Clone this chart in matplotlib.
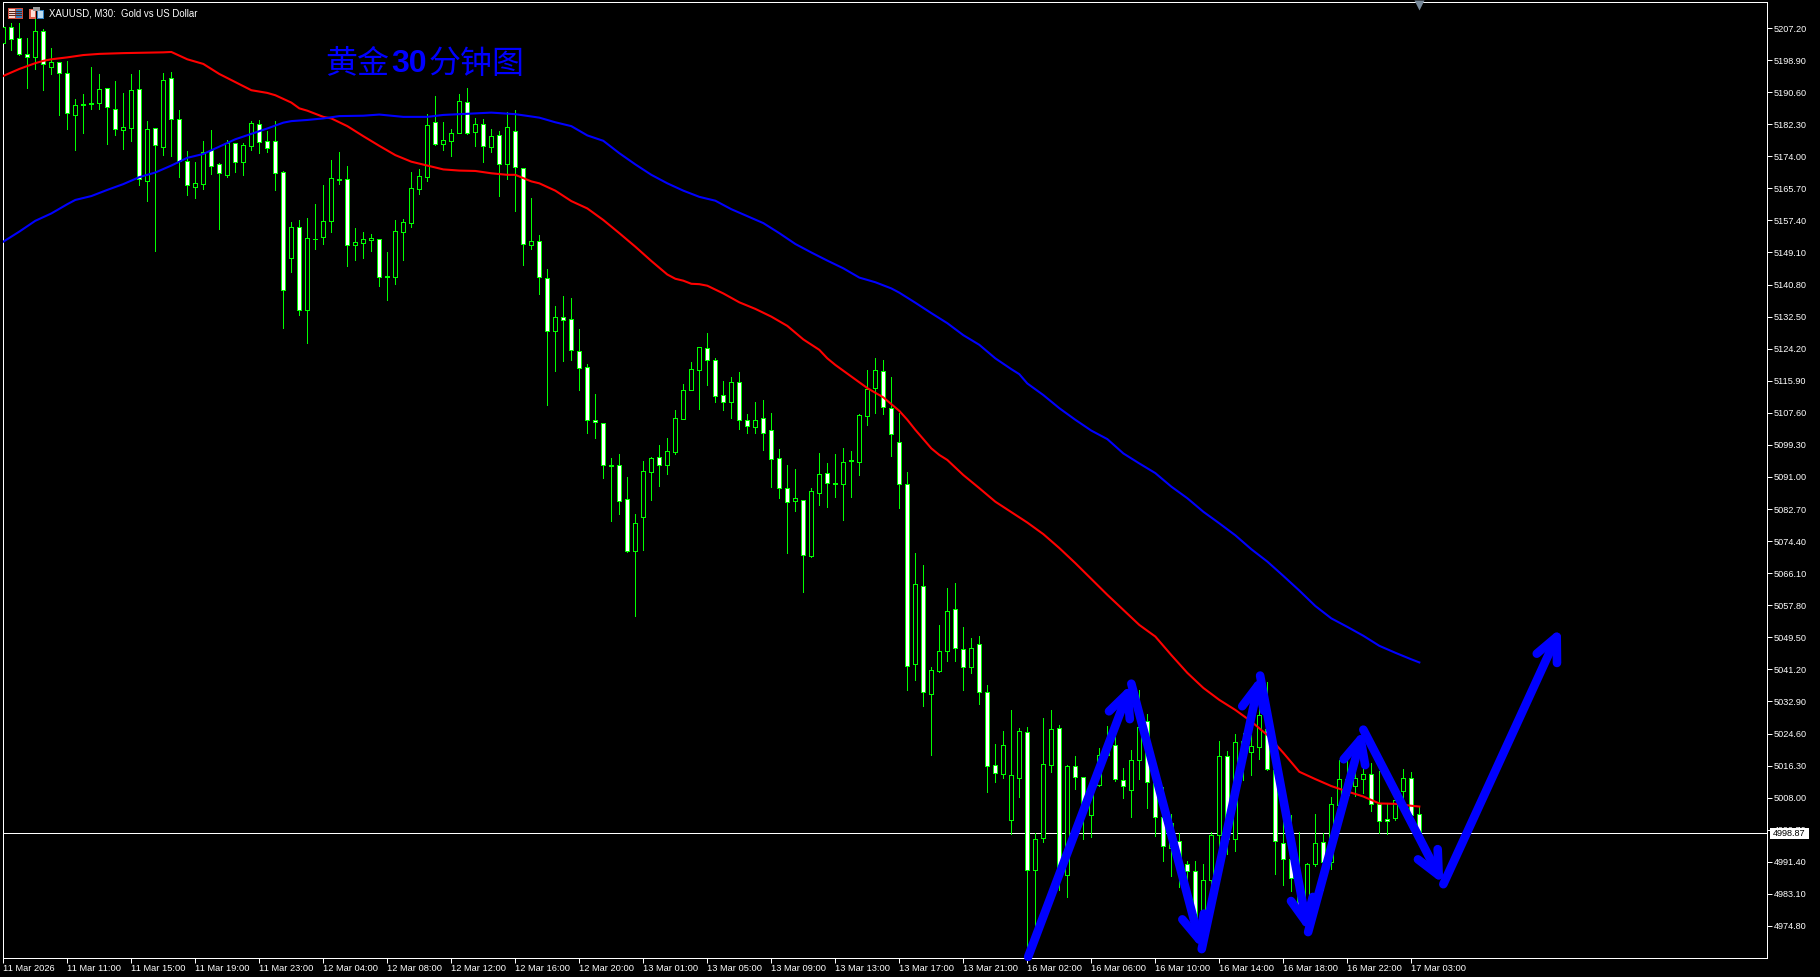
import matplotlib
matplotlib.use("Agg")
import matplotlib.pyplot as plt
from matplotlib.patches import Rectangle
from matplotlib.transforms import blended_transform_factory

# 30 minute bars
opens = [
    5203.4, 5207.4, 5204.5, 5200.4, 5199.8, 5206.5, 5197.2, 5198.3, 5195.5, 5184.8,
    5187.5, 5187.7, 5187.9, 5191.6, 5186.2, 5180.7, 5181.4, 5191.3, 5167.7, 5181.2,
    5176.5, 5194.2, 5183.6, 5172.7, 5166.1, 5166.9, 5175.5, 5171.9, 5169.2, 5177.4,
    5172.6, 5176.7, 5182.3, 5177.9, 5177.9, 5169.9, 5147.8, 5155.6, 5134.3, 5152.7,
    5153.0, 5157.3, 5168.1, 5168.0, 5151.0, 5151.6, 5152.4, 5152.5, 5142.9, 5142.8,
    5154.5, 5156.8, 5165.6, 5168.7, 5182.8, 5177.3, 5178.0, 5180.1, 5188.0, 5180.4,
    5182.3, 5176.5, 5179.4, 5172.1, 5180.5, 5170.9, 5151.0, 5152.0, 5142.4, 5128.7,
    5132.3, 5131.8, 5123.5, 5119.4, 5105.7, 5104.9, 5094.1, 5094.0, 5085.2, 5071.9,
    5080.7, 5092.4, 5096.1, 5094.2, 5097.5, 5106.1, 5113.6, 5118.8, 5124.3, 5121.2,
    5112.1, 5110.5, 5115.7, 5105.7, 5104.0, 5106.2, 5103.1, 5095.8, 5088.1, 5084.9,
    5085.0, 5070.6, 5086.9, 5092.0, 5089.5, 5089.3, 5095.3, 5095.0, 5106.9, 5114.0,
    5118.4, 5108.8, 5100.0, 5089.1, 5042.5, 5062.7, 5034.8, 5040.9, 5045.9, 5056.8,
    5046.4, 5041.7, 5047.7, 5035.3, 5016.4, 5014.0, 5002.1, 5013.0, 5024.9, 4989.2,
    4997.5, 5016.4, 5026.0, 4987.9, 5016.1, 5013.3, 5003.6, 5011.2, 5019.0, 5021.5,
    5012.5, 5009.9, 5017.7, 5027.8, 5011.7, 5003.0, 4994.9, 4996.9, 4990.8, 4988.9,
    4977.2, 4986.6, 4998.3, 5018.7, 4997.2, 5022.7, 5019.7, 5021.2, 5025.7, 5015.2,
    4996.2, 4992.0, 4987.6, 4978.9, 4990.8, 4996.4, 4991.4, 5006.0, 5012.8, 5010.9,
    5012.8, 5014.0, 5006.4, 5002.4, 5002.7, 5009.6, 5013.0, 5003.7,
]
highs = [
    5208.5, 5208.4, 5208.4, 5204.5, 5209.7, 5206.9, 5201.9, 5198.3, 5198.7, 5188.8,
    5190.1, 5197.0, 5195.3, 5191.6, 5193.5, 5190.4, 5195.3, 5196.3, 5183.1, 5181.2,
    5195.5, 5195.8, 5185.9, 5175.4, 5172.5, 5177.9, 5180.8, 5172.2, 5178.1, 5177.5,
    5177.4, 5183.1, 5183.4, 5180.6, 5183.1, 5170.1, 5157.0, 5157.5, 5158.0, 5161.6,
    5166.6, 5173.0, 5175.0, 5171.5, 5155.4, 5154.4, 5153.9, 5152.5, 5149.2, 5157.5,
    5157.8, 5169.9, 5170.7, 5184.9, 5189.6, 5182.9, 5181.0, 5190.1, 5191.7, 5183.8,
    5183.6, 5181.0, 5180.5, 5185.5, 5186.0, 5170.9, 5163.1, 5153.5, 5144.7, 5135.2,
    5137.8, 5137.3, 5129.2, 5120.2, 5112.5, 5104.9, 5095.9, 5097.0, 5091.0, 5081.4,
    5095.1, 5096.1, 5099.3, 5101.1, 5108.3, 5115.1, 5120.8, 5124.6, 5128.3, 5121.8,
    5115.8, 5116.8, 5118.2, 5107.3, 5110.4, 5110.9, 5107.6, 5098.2, 5094.1, 5093.1,
    5085.0, 5088.1, 5097.2, 5094.6, 5097.0, 5098.4, 5097.7, 5107.3, 5118.7, 5121.7,
    5121.3, 5116.8, 5107.6, 5092.2, 5071.3, 5068.2, 5041.8, 5052.7, 5062.2, 5063.6,
    5052.2, 5049.3, 5049.8, 5037.2, 5021.9, 5025.3, 5030.7, 5026.0, 5026.3, 4998.9,
    5028.6, 5030.7, 5026.8, 5016.5, 5018.8, 5013.4, 5011.3, 5020.9, 5026.6, 5023.6,
    5015.7, 5020.3, 5035.9, 5029.7, 5016.7, 5010.8, 5003.8, 4998.8, 4991.6, 4991.6,
    4990.8, 4999.1, 5022.7, 5020.1, 5024.5, 5024.7, 5024.2, 5033.0, 5037.9, 5020.8,
    5002.2, 5003.5, 4999.0, 4991.0, 5003.8, 4998.8, 5008.2, 5017.8, 5018.0, 5019.5,
    5016.5, 5016.9, 5014.9, 5006.4, 5008.4, 5015.4, 5014.6, 5005.7,
]
lows = [
    5203.2, 5201.5, 5200.2, 5191.6, 5196.5, 5191.2, 5195.3, 5184.7, 5181.0, 5175.5,
    5180.1, 5186.2, 5186.2, 5177.2, 5179.5, 5175.9, 5178.0, 5166.6, 5162.5, 5149.6,
    5174.3, 5174.1, 5168.7, 5164.0, 5163.2, 5165.5, 5169.4, 5155.2, 5168.7, 5169.9,
    5169.2, 5175.6, 5174.9, 5175.1, 5165.3, 5129.6, 5144.1, 5132.9, 5125.8, 5150.0,
    5151.3, 5154.4, 5166.8, 5145.6, 5147.2, 5147.7, 5149.5, 5140.4, 5136.8, 5141.0,
    5147.2, 5155.8, 5164.2, 5167.7, 5176.9, 5175.6, 5174.1, 5180.1, 5179.8, 5176.7,
    5172.5, 5175.1, 5163.7, 5168.1, 5159.8, 5145.9, 5150.0, 5138.4, 5109.6, 5118.4,
    5121.0, 5121.3, 5113.5, 5102.5, 5101.1, 5090.7, 5079.6, 5081.4, 5071.7, 5054.9,
    5072.1, 5085.0, 5088.7, 5091.8, 5097.0, 5106.1, 5113.5, 5108.6, 5114.8, 5110.4,
    5108.3, 5106.3, 5103.4, 5102.4, 5102.4, 5098.0, 5088.4, 5085.6, 5071.3, 5082.2,
    5061.2, 5070.4, 5083.7, 5083.2, 5085.8, 5079.9, 5085.8, 5091.5, 5104.5, 5107.6,
    5107.3, 5096.4, 5083.0, 5035.9, 5038.5, 5031.8, 5019.1, 5040.4, 5043.4, 5043.4,
    5035.9, 5040.3, 5032.2, 5009.5, 5012.1, 5013.1, 4998.6, 5008.2, 4967.7, 4973.8,
    4996.5, 5014.7, 4984.1, 4982.4, 5010.3, 4997.3, 4997.8, 5011.0, 5018.8, 5012.4,
    5007.9, 5003.1, 5012.9, 5005.3, 4998.1, 4991.6, 4987.6, 4985.0, 4983.9, 4977.2,
    4976.3, 4984.1, 4995.3, 4993.4, 4994.3, 5012.6, 5013.9, 5018.0, 5015.2, 4988.3,
    4985.4, 4983.9, 4980.2, 4978.1, 4990.3, 4984.1, 4989.5, 5005.7, 5008.3, 5008.3,
    5009.1, 5004.6, 4998.8, 4998.7, 5002.1, 5006.5, 5003.5, 4998.87,
]
closes = [
    5207.4, 5204.3, 5200.4, 5199.6, 5206.5, 5197.9, 5198.3, 5195.5, 5185.1, 5187.2,
    5187.2, 5187.5, 5191.3, 5186.7, 5181.0, 5181.5, 5191.1, 5168.0, 5181.0, 5176.8,
    5193.7, 5183.6, 5172.9, 5166.5, 5167.0, 5175.2, 5171.6, 5169.6, 5177.4, 5172.4,
    5176.8, 5182.5, 5177.6, 5176.1, 5169.8, 5139.3, 5155.6, 5134.3, 5152.8, 5152.6,
    5157.2, 5168.3, 5167.9, 5151.0, 5151.7, 5152.7, 5152.8, 5142.7, 5142.8, 5154.6,
    5156.9, 5165.9, 5168.8, 5182.0, 5177.3, 5178.1, 5179.9, 5188.2, 5180.1, 5182.3,
    5176.6, 5179.2, 5172.1, 5181.5, 5171.2, 5151.2, 5152.0, 5142.8, 5128.7, 5132.3,
    5131.6, 5123.8, 5119.1, 5105.7, 5105.3, 5094.2, 5093.9, 5084.9, 5071.9, 5079.0,
    5092.5, 5095.8, 5094.2, 5097.6, 5106.2, 5113.4, 5118.9, 5124.6, 5121.2, 5112.0,
    5110.5, 5115.5, 5105.7, 5104.3, 5105.7, 5102.5, 5095.7, 5088.2, 5084.6, 5085.5,
    5070.9, 5087.3, 5091.7, 5089.5, 5089.3, 5094.8, 5095.1, 5107.0, 5113.7, 5118.6,
    5109.0, 5102.2, 5089.1, 5042.0, 5063.2, 5035.3, 5041.0, 5045.9, 5056.2, 5046.7,
    5041.7, 5046.7, 5035.3, 5016.1, 5014.3, 5021.5, 5013.8, 5025.2, 4989.2, 4997.2,
    5016.6, 5025.7, 4989.3, 5016.1, 5013.3, 5005.7, 5011.3, 5019.0, 5019.9, 5012.8,
    5011.0, 5017.7, 5026.3, 5012.0, 5002.9, 4995.4, 5001.4, 4990.2, 4988.9, 4977.2,
    4986.6, 4998.3, 5018.7, 4997.3, 5022.3, 5018.6, 5021.3, 5029.4, 5015.3, 4996.9,
    4992.0, 4987.1, 4980.2, 4990.8, 4996.2, 4991.3, 5006.3, 5012.8, 5008.7, 5013.0,
    5014.0, 5006.4, 5001.9, 5001.9, 5007.4, 5013.0, 5003.5, 4998.87,
]

# moving averages, read at these bar numbers
red_bars = [0, 2, 4, 5, 6, 8, 10, 12, 15, 20, 21, 23, 25, 27, 29, 31, 33, 34, 36, 37, 38, 40, 41, 43, 45,
            47, 49, 51, 53, 55, 57, 59, 61, 63, 64, 66, 67, 69, 71, 73, 75, 77, 79, 81, 83, 84, 85, 86, 87,
            88, 90, 92, 94, 96, 98, 100, 102, 103, 104, 106, 108, 110, 112, 113, 114, 116, 117, 118, 120,
            122, 124, 126, 128, 130, 132, 134, 136, 138, 140, 142, 144, 146, 147, 148, 150, 152, 154, 156,
            158, 160, 162, 164, 166, 168, 170, 172, 174, 176, 177]
red_ma = [5194.8, 5196.6, 5198.1, 5198.7, 5199.1, 5199.6, 5200.2, 5200.5, 5200.7, 5200.9, 5201.0, 5199.1,
          5197.9, 5195.3, 5193.2, 5191.1, 5190.4, 5189.8, 5187.9, 5186.4, 5185.8, 5184.2, 5183.8, 5181.8,
          5179.2, 5176.7, 5174.3, 5172.6, 5171.6, 5170.6, 5170.3, 5170.2, 5169.6, 5169.2, 5169.2, 5167.5,
          5167.0, 5165.1, 5162.4, 5160.5, 5157.5, 5154.1, 5150.6, 5146.9, 5143.4, 5142.3, 5141.8, 5141.0,
          5140.9, 5140.5, 5138.5, 5136.2, 5134.5, 5132.5, 5130.1, 5126.6, 5123.9, 5121.7, 5120.0, 5117.0,
          5114.0, 5111.6, 5108.1, 5105.8, 5103.2, 5098.4, 5096.7, 5095.4, 5091.5, 5088.1, 5084.6, 5081.9,
          5079.2, 5076.2, 5072.6, 5068.7, 5064.6, 5060.5, 5056.6, 5052.7, 5049.7, 5044.9, 5042.6, 5040.3,
          5036.4, 5033.3, 5030.7, 5027.7, 5024.2, 5019.6, 5014.7, 5012.8, 5011.0, 5009.6, 5008.3, 5006.5,
          5006.4, 5005.9, 5005.7]
blue_bars = [0, 2, 4, 6, 8, 9, 11, 13, 15, 17, 19, 21, 23, 25, 27, 29, 31, 33, 35, 36, 38, 40, 42, 45, 47,
             50, 53, 55, 58, 61, 64, 67, 69, 71, 73, 75, 77, 79, 81, 83, 85, 87, 89, 91, 93, 95, 97, 99, 101,
             103, 105, 107, 109, 111, 112, 114, 116, 118, 120, 122, 124, 126, 127, 128, 130, 132, 134, 136,
             138, 140, 142, 144, 146, 148, 150, 152, 154, 156, 158, 160, 162, 164, 166, 168, 170, 172, 174,
             176, 177]
blue_ma = [5151.9, 5154.5, 5157.3, 5159.2, 5161.6, 5162.7, 5163.7, 5165.3, 5166.8, 5168.6, 5169.8, 5171.6,
           5173.6, 5174.6, 5176.5, 5178.4, 5179.8, 5181.2, 5182.7, 5183.1, 5183.4, 5183.8, 5184.4, 5184.5,
           5184.8, 5184.2, 5184.2, 5184.7, 5185.0, 5185.3, 5184.9, 5184.0, 5182.8, 5181.8, 5179.4, 5178.0,
           5174.8, 5171.9, 5169.2, 5167.0, 5165.1, 5163.5, 5162.5, 5160.3, 5158.5, 5156.7, 5154.1, 5151.3,
           5149.1, 5147.0, 5145.0, 5142.6, 5141.4, 5139.8, 5138.7, 5136.1, 5133.4, 5130.8, 5127.7, 5125.2,
           5121.7, 5118.9, 5117.6, 5115.2, 5112.2, 5108.8, 5105.8, 5103.0, 5100.8, 5097.1, 5094.5, 5092.0,
           5088.5, 5085.5, 5082.0, 5079.0, 5075.9, 5072.3, 5069.1, 5065.4, 5061.6, 5057.6, 5054.4, 5052.2,
           5049.9, 5047.3, 5045.5, 5043.8, 5043.0]

# hand drawn zigzag on the chart
arrow_bars = [128.1, 141.0, 149.8, 157.1, 163.1, 170.0, 180.0, 194.7]
arrow_prices = [4966.8, 5037.5, 4968.8, 5039.6, 4973.2, 5025.6, 4985.6, 5052.0]

current_price = 4998.87
price_ticks = [5207.20, 5198.90, 5190.60, 5182.30, 5174.00, 5165.70, 5157.40, 5149.10, 5140.80, 5132.50,
               5124.20, 5115.90, 5107.60, 5099.30, 5091.00, 5082.70, 5074.40, 5066.10, 5057.80, 5049.50,
               5041.20, 5032.90, 5024.60, 5016.30, 5008.00, 4999.70, 4991.40, 4983.10, 4974.80]
time_labels = ["11 Mar 2026", "11 Mar 11:00", "11 Mar 15:00", "11 Mar 19:00", "11 Mar 23:00", "12 Mar 04:00",
               "12 Mar 08:00", "12 Mar 12:00", "12 Mar 16:00", "12 Mar 20:00", "13 Mar 01:00", "13 Mar 05:00",
               "13 Mar 09:00", "13 Mar 13:00", "13 Mar 17:00", "13 Mar 21:00", "16 Mar 02:00", "16 Mar 06:00",
               "16 Mar 10:00", "16 Mar 14:00", "16 Mar 18:00", "16 Mar 22:00", "17 Mar 03:00"]

W, H = 1820, 977
GREEN = "#00ff00"
BLUE = "#0000ff"
PX = 0.72  # one pixel in points at dpi 100
LABEL_FONT = "Liberation Sans"


def px_box(fig, x0, y0, x1, y1, color, zorder=3):
    """Filled rectangle given in image pixels, y going down."""
    fig.add_artist(Rectangle((x0 / W, 1 - y1 / H), (x1 - x0) / W, (y1 - y0) / H, transform=fig.transFigure,
                             facecolor=color, edgecolor="none", zorder=zorder))


def px_text(fig, x, y, s, **kw):
    fig.text(x / W, 1 - y / H, s, va="center", ha="left", zorder=5, **kw)


def draw_candles(ax):
    bars = list(range(len(opens)))
    ax.vlines(bars, lows, highs, color=GREEN, lw=PX, zorder=2, antialiased=False)
    for i in bars:
        bottom = min(opens[i], closes[i])
        height = abs(closes[i] - opens[i])
        face = "black" if closes[i] >= opens[i] else "white"
        ax.add_patch(Rectangle((i - 0.25, bottom), 0.5, height, facecolor=face, edgecolor=GREEN,
                               lw=PX, zorder=3, antialiased=False))


def draw_arrows(ax):
    for i in range(len(arrow_bars) - 1):
        ax.annotate("", xy=(arrow_bars[i + 1], arrow_prices[i + 1]), xytext=(arrow_bars[i], arrow_prices[i]),
                    arrowprops=dict(arrowstyle="->,head_length=17,head_width=8", mutation_scale=1,
                                    color=BLUE, lw=6.2, shrinkA=0, shrinkB=0,
                                    capstyle="round", joinstyle="round"),
                    zorder=6)


def draw_header(fig):
    # the two small toolbar icons in the corner
    px_box(fig, 8, 8, 23, 19, "#d04a3a")
    px_box(fig, 9, 9, 15, 18, "#f6d8d0")
    px_box(fig, 16, 9, 22, 18, "#2f7fc0")
    for y in (11, 13, 15):
        px_box(fig, 9, y, 22, y + 1, "#5a2a20", zorder=4)
    px_box(fig, 29, 9, 36, 19, "#e0604c")
    px_box(fig, 31, 10, 35, 17, "#fbe0d8")
    px_box(fig, 37, 10, 44, 19, "#2f7fc0")
    px_box(fig, 38, 11, 43, 18, "#bcdcf2")
    px_box(fig, 33, 7, 40, 11, "#9a9a9a", zorder=4)
    px_text(fig, 49, 13.5, "XAUUSD, M30:  Gold vs US Dollar", color="white", fontsize=6.95, family=LABEL_FONT)


def main():
    fig = plt.figure(figsize=(W / 100, H / 100), dpi=100, facecolor="black")
    ax = fig.add_axes([3 / W, (H - 958) / H, 1764 / W, 956 / H], facecolor="black")
    ax.set_xlim(-0.04, 220.46)
    ax.set_ylim(4966.5, 5213.93)

    for side in ax.spines.values():
        side.set_color("white")
        side.set_linewidth(PX)

    ax.axhline(current_price, color="white", lw=PX, zorder=1, antialiased=False)
    draw_candles(ax)
    ax.plot(red_bars, red_ma, color="#ff0000", lw=1.5, zorder=4)
    ax.plot(blue_bars, blue_ma, color=BLUE, lw=1.5, zorder=4)
    draw_arrows(ax)

    # little grey marker of the chart shift, on the last bar
    trans = blended_transform_factory(ax.transData, ax.transAxes)
    ax.plot([len(opens) - 1], [0.9965], marker="v", ms=7, color="#778899", mec="none", transform=trans,
            clip_on=False, zorder=7)

    ax.yaxis.tick_right()
    ax.set_yticks(price_ticks)
    ax.set_yticklabels([f"{p:.2f}" for p in price_ticks], family=LABEL_FONT, fontsize=6.6)
    ax.tick_params(axis="y", colors="white", length=3.6, width=PX, pad=1)

    ax.set_xticks([8 * i for i in range(len(time_labels))])
    ax.set_xticklabels(time_labels, family=LABEL_FONT, fontsize=6.7, ha="left")
    ax.tick_params(axis="x", colors="white", length=3.6, width=PX, pad=0.5)

    # last price tag over the axis
    px_box(fig, 1770, 828, 1809, 839, "white", zorder=4)
    px_text(fig, 1773, 833.5, f"{current_price:.2f}", color="black", fontsize=6.6, family=LABEL_FONT)

    draw_header(fig)

    # chart title, digits are bold in another face
    cjk = ["Noto Sans CJK SC", "DejaVu Sans"]
    px_text(fig, 325, 63.5, "黄金", color=BLUE, fontsize=23, family=cjk)
    px_text(fig, 391, 64, "30", color=BLUE, fontsize=23, family=LABEL_FONT, fontweight="bold")
    px_text(fig, 429, 63.5, "分钟图", color=BLUE, fontsize=23, family=cjk)

    fig.savefig("out.png", dpi=100, facecolor="black")


main()
